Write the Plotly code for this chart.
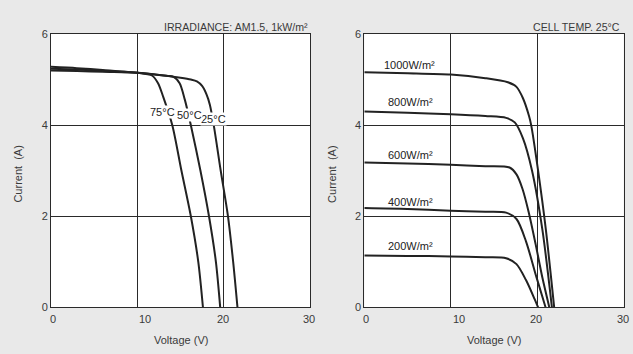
import plotly.graph_objects as go

# ---- I-V characteristics vs. cell temperature (irradiance AM1.5, 1 kW/m2) ----
temp_labels = ["25°C", "50°C", "75°C"]
t25_v = [0, 3, 6, 10, 13, 15, 16.2, 16.9, 17.5, 18.0, 18.4, 18.85, 19.65, 20.5, 21.1, 21.6]
t25_i = [5.20, 5.19, 5.17, 5.15, 5.09, 5.04, 5.00, 4.96, 4.86, 4.68, 4.45, 4.00, 3.01, 2.00, 1.00, 0.00]
t50_v = [0, 3, 6, 10, 12, 13.5, 14.2, 14.9, 15.5, 16.2, 17.3, 18.3, 19.1, 19.6]
t50_i = [5.24, 5.22, 5.19, 5.15, 5.11, 5.08, 5.06, 4.92, 4.56, 4.00, 3.01, 2.00, 1.00, 0.00]
t75_v = [0, 3, 6, 10, 11, 11.7, 12.4, 13.0, 14.05, 15.1, 16.2, 17.06, 17.6]
t75_i = [5.28, 5.25, 5.21, 5.15, 5.12, 5.09, 4.92, 4.62, 4.00, 3.01, 2.00, 1.00, 0.00]

# ---- I-V characteristics vs. irradiance (cell temperature 25°C) ----
irr_labels = ["1000W/m²", "800W/m²", "600W/m²", "400W/m²", "200W/m²"]
g1000_v = [0, 5, 10, 14, 16.6, 17.6, 18.35, 19.05, 19.3, 20.1, 21.0, 21.96]
g1000_i = [5.16, 5.14, 5.11, 5.03, 4.94, 4.84, 4.59, 4.20, 4.00, 3.00, 1.70, 0.00]
g800_v = [0, 5, 10, 14, 16.4, 17.4, 18.35, 19.4, 20.6, 21.7]
g800_i = [4.30, 4.27, 4.24, 4.20, 4.16, 4.06, 3.71, 3.00, 1.70, 0.00]
g600_v = [0, 5, 10, 14, 16.8, 17.6, 18.3, 19.0, 19.8, 20.6, 21.4]
g600_i = [3.18, 3.16, 3.13, 3.10, 3.07, 2.92, 2.60, 2.10, 1.40, 0.65, 0.00]
g400_v = [0, 5, 10, 14, 16.4, 17.6, 18.7, 19.9, 20.97]
g400_i = [2.18, 2.16, 2.12, 2.10, 2.08, 1.94, 1.45, 0.67, 0.00]
g200_v = [0, 5, 10, 14, 16.4, 17.6, 18.7, 19.7, 20.1]
g200_i = [1.14, 1.13, 1.12, 1.10, 1.08, 0.95, 0.60, 0.18, 0.00]

x_ticks = [0, 10, 20, 30]
y_ticks = [0, 2, 4, 6]

# label anchor points (data units) for the curve captions
temp_label_pos = [(18.77, 4.13), (16.0, 4.22), (12.97, 4.28)]
irr_label_pos = [(5.25, 5.32), (5.4, 4.50), (5.4, 3.34), (5.4, 2.32), (5.4, 1.35)]

FONT = "Liberation Sans, Arial, sans-serif"
INK = "#222222"
TEXT = "#3a3a3a"
BG = "#e9e9e9"

fig = go.Figure()

left_curves = [(t25_v, t25_i), (t50_v, t50_i), (t75_v, t75_i)]
for v, i in left_curves:
    fig.add_trace(go.Scatter(x=v, y=i, mode="lines", xaxis="x", yaxis="y",
                             line=dict(color=INK, width=2, shape="spline", smoothing=0.8),
                             showlegend=False, hoverinfo="skip"))

right_curves = [(g1000_v, g1000_i), (g800_v, g800_i), (g600_v, g600_i),
                (g400_v, g400_i), (g200_v, g200_i)]
for v, i in right_curves:
    fig.add_trace(go.Scatter(x=v, y=i, mode="lines", xaxis="x2", yaxis="y2",
                             line=dict(color=INK, width=2, shape="spline", smoothing=0.8),
                             showlegend=False, hoverinfo="skip"))

W, H = 633, 354
left_dom = [51 / W, 310 / W]
right_dom = [364.3 / W, 623.7 / W]
y_dom = [1 - 312 / H, 1 - 29 / H]
plot_h = 312 - 29

axis_common = dict(
    range=[0, 30], showgrid=True, gridcolor="#2a2a2a", gridwidth=1,
    zeroline=False, showline=True, linecolor="#2a2a2a", linewidth=1, mirror=True,
    tickvals=x_ticks, showticklabels=False, ticks="", fixedrange=True,
)
yaxis_common = dict(
    range=[0, 6], showgrid=True, gridcolor="#2a2a2a", gridwidth=1,
    zeroline=False, showline=True, linecolor="#2a2a2a", linewidth=1, mirror=True,
    tickvals=y_ticks, ticktext=[str(t) for t in y_ticks], ticks="",
    tickfont=dict(family=FONT, size=11, color=TEXT), fixedrange=True,
    domain=y_dom,
)

fig.update_layout(
    width=W, height=H,
    margin=dict(l=0, r=0, t=0, b=0),
    paper_bgcolor=BG, plot_bgcolor="white",
    font=dict(family=FONT, size=11, color=TEXT),
    xaxis=dict(axis_common, domain=left_dom, anchor="y"),
    yaxis=dict(yaxis_common, anchor="x"),
    xaxis2=dict(axis_common, domain=right_dom, anchor="y2"),
    yaxis2=dict(yaxis_common, anchor="x2"),
)

ann = []
# x tick labels (slight per-label offsets as typeset)
tick_shift = {0: 2, 10: 8, 20: -1, 30: -1}
for xa, ya in (("x", "y"), ("x2", "y2")):
    for t in x_ticks:
        ann.append(dict(x=t, y=0, xref=xa, yref=ya,
                        text=str(t), showarrow=False, yanchor="top", yshift=-4,
                        xshift=tick_shift[t],
                        font=dict(family=FONT, size=11, color=TEXT)))

# axis titles, placed relative to each axis domain
for xa, ya in (("x", "y"), ("x2", "y2")):
    ann.append(dict(x=0.5, y=-(346 - 312) / plot_h, xref=f"{xa} domain", yref=f"{ya} domain",
                    text="Voltage (V)", showarrow=False, yanchor="middle",
                    font=dict(family=FONT, size=11, color=TEXT)))
    ann.append(dict(x=0, y=0.5 - 4 / plot_h, xref=f"{xa} domain", yref=f"{ya} domain",
                    xshift=-33, text="Current  (A)", textangle=-90, showarrow=False,
                    xanchor="center", yanchor="middle",
                    font=dict(family=FONT, size=11, color=TEXT)))

# panel headings
ann.append(dict(x=1, y=1, xref="x domain", yref="y domain", yshift=7,
                text="IRRADIANCE: AM1.5, 1kW/m²", showarrow=False,
                xanchor="right", yanchor="middle",
                font=dict(family=FONT, size=10.6, color=TEXT)))
ann.append(dict(x=1, y=1, xref="x2 domain", yref="y2 domain", yshift=7, xshift=-2,
                text="CELL TEMP. 25°C", showarrow=False,
                xanchor="right", yanchor="middle",
                font=dict(family=FONT, size=10.6, color=TEXT)))

# curve captions (white backing so they sit cleanly on the curves)
for lab, (vx, iy) in zip(temp_labels, temp_label_pos):
    ann.append(dict(x=vx, y=iy, xref="x", yref="y", text=lab, showarrow=False,
                    bgcolor="white", borderpad=0,
                    font=dict(family=FONT, size=11, color=INK)))
for lab, (vx, iy) in zip(irr_labels, irr_label_pos):
    ann.append(dict(x=vx, y=iy, xref="x2", yref="y2", text=lab, showarrow=False,
                    font=dict(family=FONT, size=11, color=INK)))

fig.update_layout(annotations=ann)
fig.write_html("out.html")
